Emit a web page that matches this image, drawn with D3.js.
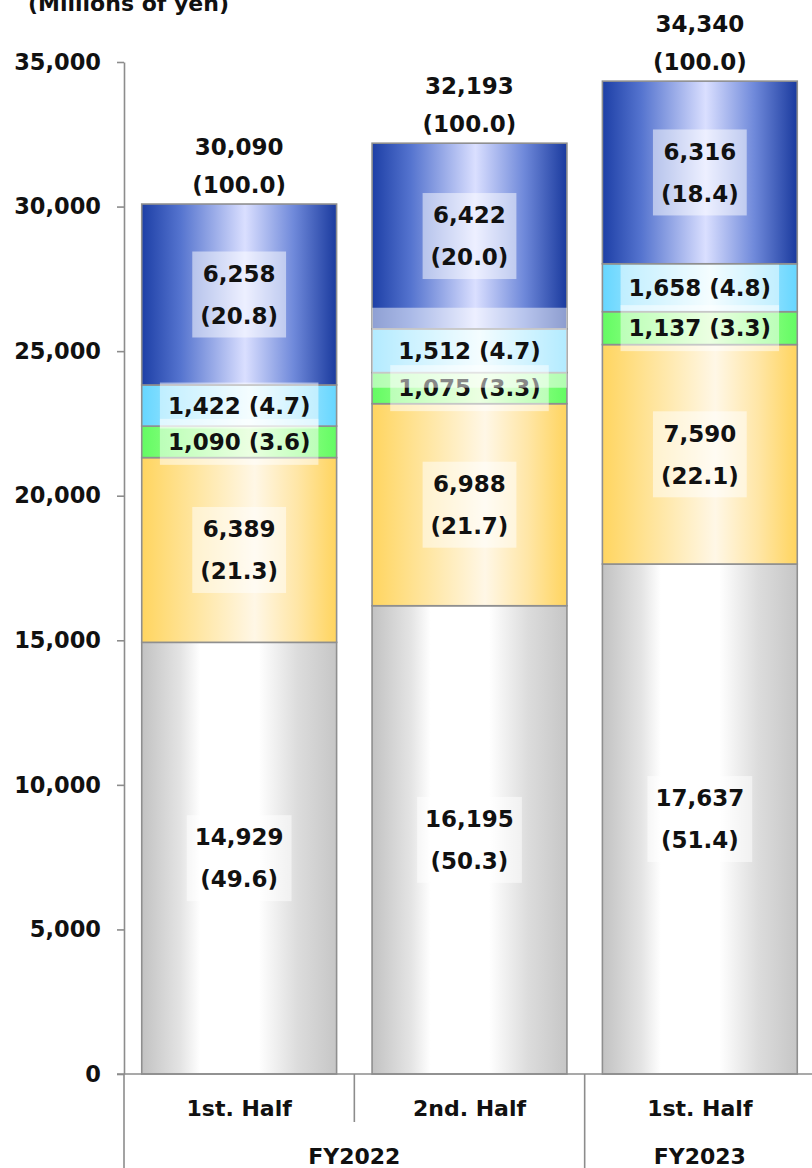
<!DOCTYPE html>
<html>
<head>
<meta charset="utf-8">
<script src="https://cdn.jsdelivr.net/npm/d3@7"></script>
<style>
  html, body { margin: 0; padding: 0; background: #ffffff; }
  svg { display: block; }
  text { font-family: "DejaVu Sans", Verdana, sans-serif; font-weight: bold; fill: #111; }
</style>
</head>
<body>
<svg id="chart" width="812" height="1168"></svg>
<script>
// ---- data (millions of yen, share in %) ----
const periods = ["1st. Half", "2nd. Half", "1st. Half"];
const fiscalYears = ["FY2022", "FY2023"];
const fiscalSpans = [2, 1];

const graySales   = [14929, 16195, 17637];
const grayShare   = [49.6, 50.3, 51.4];
const yellowSales = [6389, 6988, 7590];
const yellowShare = [21.3, 21.7, 22.1];
const greenSales  = [1090, 1075, 1137];
const greenShare  = [3.6, 3.3, 3.3];
const cyanSales   = [1422, 1512, 1658];
const cyanShare   = [4.7, 4.7, 4.8];
const blueSales   = [6258, 6422, 6316];
const blueShare   = [20.8, 20.0, 18.4];

const totals      = [30090, 32193, 34340];
const totalShare  = [100.0, 100.0, 100.0];

const yTicks = [0, 5000, 10000, 15000, 20000, 25000, 30000, 35000];
const unitLabel = "(Millions of yen)";

// stacking order, bottom to top
const series = [
  { key: "gray",   values: graySales,   share: grayShare,   twoLine: true },
  { key: "yellow", values: yellowSales, share: yellowShare, twoLine: true },
  { key: "green",  values: greenSales,  share: greenShare,  twoLine: false },
  { key: "cyan",   values: cyanSales,   share: cyanShare,   twoLine: false },
  { key: "blue",   values: blueSales,   share: blueShare,   twoLine: true }
];

// ---- styling ----
const gradients = {
  gray:   [[0, "#c2c2c2"], [0.2, "#e4e4e4"], [0.3, "#ffffff"], [0.6, "#ffffff"], [0.8, "#dcdcdc"], [1, "#c6c6c6"]],
  yellow: [[0, "#ffd560"], [0.25, "#ffe49a"], [0.58, "#fff7e6"], [0.8, "#ffe6a6"], [1, "#ffd45e"]],
  green:  [[0, "#63fb63"], [0.2, "#8cff80"], [0.55, "#d6ffc4"], [0.8, "#90ff84"], [1, "#63fb63"]],
  cyan:   [[0, "#66d6ff"], [0.2, "#99e4ff"], [0.55, "#e8faff"], [0.8, "#a0e6ff"], [1, "#66d6ff"]],
  blue:   [[0, "#1d3fa6"], [0.2, "#5574cf"], [0.53, "#dadfff"], [0.78, "#6f89da"], [1, "#1a3a9e"]]
};

const fmt = d3.format(",");
const fmtPct = d3.format(".1f");

const svg = d3.select("#chart");
const width = 812, height = 1168;

const y = d3.scaleLinear().domain([0, 35000]).range([1074, 62]);
const x = d3.scaleBand().domain(d3.range(periods.length))
  .range([124, 815]).paddingInner(0.154).paddingOuter(0.077);

// gradient definitions
const defs = svg.append("defs");
Object.entries(gradients).forEach(([k, stops]) => {
  const g = defs.append("linearGradient").attr("id", "grad-" + k)
    .attr("x1", 0).attr("x2", 1).attr("y1", 0).attr("y2", 0);
  stops.forEach(([o, c]) => g.append("stop").attr("offset", o).attr("stop-color", c));
});

// unit caption
svg.append("text").attr("x", 28).attr("y", 11)
  .style("font-size", "22px").text(unitLabel);

// stacked layout
const rows = periods.map((p, i) => {
  const r = { i };
  series.forEach(s => { r[s.key] = s.values[i]; });
  return r;
});
const stacked = d3.stack().keys(series.map(s => s.key))(rows);

// y axis
const yAxis = d3.axisLeft(y).tickValues(yTicks).tickFormat(fmt)
  .tickSize(7).tickSizeOuter(0).tickPadding(16);
const yg = svg.append("g").attr("transform", "translate(124,0)").call(yAxis);
yg.select(".domain").attr("stroke", "#8c8c8c").attr("stroke-width", 1.6);
yg.selectAll(".tick line").attr("stroke", "#8c8c8c").attr("stroke-width", 1.6);
yg.selectAll(".tick text").style("font-size", "22.5px").attr("fill", "#111")
  .style("font-family", "'DejaVu Sans', Verdana, sans-serif").style("font-weight", "bold");

// bars
const barG = svg.append("g");
stacked.forEach((layer, si) => {
  barG.selectAll(null).data(layer).enter().append("rect")
    .attr("x", (d, i) => x(i))
    .attr("width", x.bandwidth())
    .attr("y", d => y(d[1]))
    .attr("height", d => y(d[0]) - y(d[1]))
    .attr("fill", "url(#grad-" + series[si].key + ")")
    .attr("stroke", "#8f8f8f")
    .attr("stroke-width", 1.6);
});

// category axis: baseline and group dividers
const catG = svg.append("g");
catG.append("line").attr("x1", 117).attr("x2", width).attr("y1", y(0)).attr("y2", y(0))
  .attr("stroke", "#8c8c8c").attr("stroke-width", 1.6);
catG.append("line").attr("x1", 124).attr("x2", 124).attr("y1", y(0)).attr("y2", height)
  .attr("stroke", "#8c8c8c").attr("stroke-width", 1.6);

// divider between every period, long ones between fiscal years
let acc = 0;
const fyBounds = fiscalSpans.map(n => { const s = acc; acc += n; return [s, acc]; });
for (let i = 1; i < periods.length; i++) {
  const xx = x(i) - x.step() * x.paddingInner() / 2;
  const isFy = fyBounds.some(b => b[0] === i);
  catG.append("line").attr("x1", xx).attr("x2", xx)
    .attr("y1", y(0)).attr("y2", isFy ? height : 1122)
    .attr("stroke", "#8c8c8c").attr("stroke-width", 1.6);
}
periods.forEach((p, i) => {
  catG.append("text").attr("x", x(i) + x.bandwidth() / 2).attr("y", 1116)
    .attr("text-anchor", "middle").style("font-size", "22px").text(p);
});
fiscalYears.forEach((f, k) => {
  const [a, b] = fyBounds[k];
  const left = x(a) - x.step() * x.paddingInner() / 2;
  const right = x(b - 1) + x.bandwidth() + x.step() * x.paddingInner() / 2;
  catG.append("text").attr("x", (left + right) / 2).attr("y", 1164)
    .attr("text-anchor", "middle").style("font-size", "22px").text(f);
});

// segment labels with translucent boxes
const labelG = svg.append("g");
const fontPx = 23, lineGap = 42, capHalf = 8.3;
// one box in the 2nd half is stretched across the whole bar
const boxOverrides = { "cyan-1": { fullWidth: true, top: -43, bottom: 37 } };

stacked.forEach((layer, si) => {
  const s = series[si];
  layer.forEach((d, i) => {
    const cx = x(i) + x.bandwidth() / 2;
    const cy = (y(d[0]) + y(d[1])) / 2;
    const g = labelG.append("g");
    const box = g.append("rect").attr("fill", "#ffffff").attr("fill-opacity", 0.5);
    const lines = s.twoLine
      ? [fmt(s.values[i]), "(" + fmtPct(s.share[i]) + ")"]
      : [fmt(s.values[i]) + " (" + fmtPct(s.share[i]) + ")"];
    const texts = lines.map((t, li) => g.append("text")
      .attr("x", cx)
      .attr("y", cy + capHalf + (lines.length === 2 ? (li === 0 ? -lineGap / 2 : lineGap / 2) : 0))
      .attr("text-anchor", "middle").style("font-size", fontPx + "px").text(t));
    const w = d3.max(texts, t => t.node().getComputedTextLength());
    const ov = boxOverrides[s.key + "-" + i];
    if (ov) {
      box.attr("x", x(i)).attr("width", x.bandwidth())
        .attr("y", cy + ov.top).attr("height", ov.bottom - ov.top);
    } else {
      const h = lines.length === 2 ? 86 : 46;
      box.attr("x", cx - w / 2 - 8).attr("width", w + 16)
        .attr("y", cy - h / 2).attr("height", h);
    }
  });
});

// totals above the bars
const topLayer = stacked[stacked.length - 1];
totals.forEach((t, i) => {
  const cx = x(i) + x.bandwidth() / 2;
  const ty = y(topLayer[i][1]);
  labelG.append("text").attr("x", cx).attr("y", ty - 57 + capHalf)
    .attr("text-anchor", "middle").style("font-size", fontPx + "px").text(fmt(t));
  labelG.append("text").attr("x", cx).attr("y", ty - 19 + capHalf)
    .attr("text-anchor", "middle").style("font-size", fontPx + "px")
    .text("(" + fmtPct(totalShare[i]) + ")");
});
</script>
</body>
</html>
